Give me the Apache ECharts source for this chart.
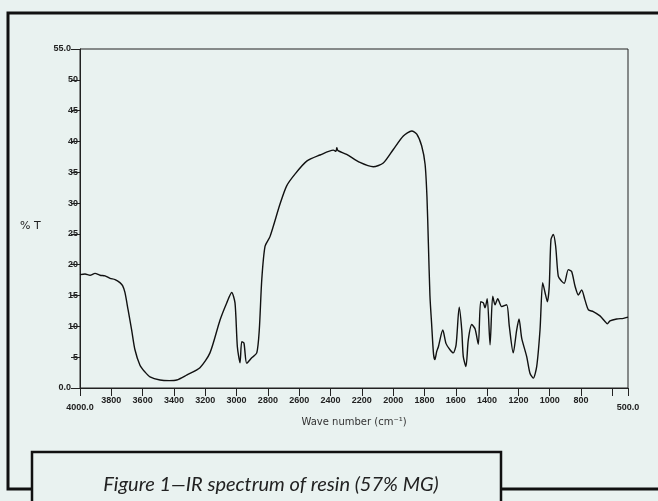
<!DOCTYPE html>
<html>
<head>
    <meta charset="utf-8">
    <title>IR spectrum</title>
    <script src="https://cdn.jsdelivr.net/npm/echarts@6.0.0/dist/echarts.min.js"></script>
    <style>
        html, body { margin: 0; padding: 0; background: #e9f2f0; }
    </style>
</head>
<body>
    <div id="main" style="width:658px;height:501px;"></div>
    <script type="text/javascript">
// wave numbers (cm-1)
var waveNumber = [4000, 3968, 3936, 3904, 3872, 3840, 3808, 3776, 3745, 3728, 3713, 3693, 3670, 3649, 3617, 3585, 3553,
    3489, 3430, 3382, 3319, 3234, 3170, 3106, 3063, 3031, 3010, 2995, 2978, 2967, 2953, 2935, 2903, 2871,
    2855, 2839, 2818, 2786, 2723, 2680, 2627, 2552, 2467, 2382, 2365, 2360, 2352, 2297, 2212, 2127, 2063,
    1999, 1935, 1881, 1849, 1818, 1796, 1784, 1775, 1765, 1754, 1742, 1733, 1722, 1711, 1683, 1662, 1637,
    1616, 1598, 1578, 1562, 1552, 1535, 1520, 1498, 1477, 1456, 1441, 1424, 1413, 1399, 1381, 1364, 1349,
    1332, 1307, 1275, 1258, 1233, 1211, 1196, 1179, 1147, 1126, 1105, 1083, 1062, 1045, 1030, 1015, 1003,
    992, 977, 962, 945, 923, 907, 881, 860, 838, 817, 796, 775, 753, 722, 679, 647, 632, 615, 572, 529, 500];
// % transmittance
var transmit = [18.4, 18.5, 18.3, 18.6, 18.3, 18.2, 17.8, 17.6, 17.1, 16.6, 15.5, 12.7, 9.4, 6.2, 3.7, 2.6, 1.8,
    1.3, 1.2, 1.3, 2.1, 3.3, 5.7, 11, 13.8, 15.5, 13.8, 6.7, 4.1, 7.5, 7.3, 4.0, 4.9, 5.7,
    9.4, 17.6, 23, 24.6, 29.8, 32.8, 34.7, 36.8, 37.8, 38.6, 38.4, 39.0, 38.5, 37.9, 36.6, 35.9, 36.5,
    38.7, 40.9, 41.7, 41.2, 39.3, 36.3, 31, 23.5, 15, 10.3, 5.5, 4.6, 5.9, 6.7, 9.4, 7.2, 6.2,
    5.7, 7, 13.1, 9.5, 5.1, 3.5, 7.8, 10.3, 9.6, 7.1, 14, 13.8, 13, 14.5, 7, 14.9, 13.5,
    14.5, 13.2, 13.5, 10, 5.7, 9.4, 11.2, 8.1, 5.1, 2.4, 1.6, 3.5, 9.4, 17.1, 15.5, 14, 16.5,
    24.1, 24.9, 23, 18.1, 17.3, 17, 19.2, 18.9, 16.5, 15.1, 15.9, 14.3, 12.7, 12.4, 11.7, 10.8, 10.4, 10.9, 11.2, 11.3, 11.5];

var xTicks = [4000, 3800, 3600, 3400, 3200, 3000, 2800, 2600, 2400, 2200, 2000, 1800, 1600, 1400, 1200, 1000, 800, 600, 500];
var xLabels = [4000, 3800, 3600, 3400, 3200, 3000, 2800, 2600, 2400, 2200, 2000, 1800, 1600, 1400, 1200, 1000, 800, 500];

var points = [];
for (var i = 0; i < waveNumber.length; i++) {
    points.push([waveNumber[i], transmit[i]]);
}

var tickFont = "'Liberation Sans Narrow', 'Liberation Sans', sans-serif";

var myChart = echarts.init(document.getElementById('main'));
var option = {
    backgroundColor: '#e9f2f0',
    animation: false,
    title: [{
        text: 'Figure 1\u2014IR spectrum of resin (57% MG)',
        left: 266,
        top: 470,
        textAlign: 'center',
        textStyle: {
            fontFamily: 'Lato, sans-serif',
            fontStyle: 'italic',
            fontWeight: 'normal',
            fontSize: 20,
            color: '#222'
        },
        z: 10
    }, {
        // y axis title sits a bit below the middle in the original
        text: '% T',
        left: 15,
        top: 216,
        textStyle: { fontSize: 11, fontWeight: 'normal', color: '#222', fontFamily: 'DejaVu Sans, sans-serif' }
    }],
    graphic: [
        { type: 'rect', shape: { x: 8, y: 13, width: 700, height: 476 },
          style: { fill: 'none', stroke: '#111', lineWidth: 3 }, z: 0 },
        { type: 'rect', shape: { x: 32, y: 452, width: 469, height: 80 },
          style: { fill: '#e9f2f0', stroke: '#111', lineWidth: 2.5 }, z: 1 }
    ],
    grid: {
        left: 80, right: 30, top: 49, bottom: 113,
        show: true, borderColor: '#222', borderWidth: 1
    },
    xAxis: {
        type: 'value',
        inverse: true,
        min: 500,
        max: 4000,
        name: 'Wave number (cm\u207B\u00B9)',
        nameLocation: 'middle',
        nameGap: 29,
        nameTextStyle: { fontSize: 10, color: '#333', fontFamily: 'DejaVu Sans, sans-serif' },
        splitLine: { show: false },
        axisLine: { lineStyle: { color: '#222', width: 1 } },
        axisTick: { customValues: xTicks, length: 8, lineStyle: { color: '#222' } },
        axisLabel: {
            customValues: xLabels,
            margin: 8,
            fontSize: 9,
            fontWeight: 'bold',
            fontFamily: tickFont,
            color: '#222',
            formatter: function (v) {
                if (v === 4000 || v === 500) {
                    return '{end|' + v.toFixed(1) + '}';
                }
                return String(v);
            },
            rich: {
                end: { padding: [7, 0, 0, 0], fontSize: 9, fontWeight: 'bold', fontFamily: tickFont, color: '#222' }
            }
        }
    },
    yAxis: {
        type: 'value',
        min: 0,
        max: 55,
        interval: 5,
        splitLine: { show: false },
        axisLine: { show: true, lineStyle: { color: '#222', width: 1 } },
        axisTick: { length: 9, lineStyle: { color: '#222' } },
        axisLabel: {
            margin: 2,
            fontSize: 9,
            fontWeight: 'bold',
            fontFamily: tickFont,
            color: '#222',
            formatter: function (v) {
                if (v === 0 || v === 55) {
                    return '{end|' + v.toFixed(1) + '}';
                }
                return String(v);
            },
            rich: {
                end: { padding: [0, 7, 0, 0], fontSize: 9, fontWeight: 'bold', fontFamily: tickFont, color: '#222' }
            }
        }
    },
    series: [{
        type: 'line',
        data: points,
        showSymbol: false,
        smooth: 0.25,
        lineStyle: { color: '#111', width: 1.4 }
    }]
};
myChart.setOption(option);
    </script>
</body>
</html>
